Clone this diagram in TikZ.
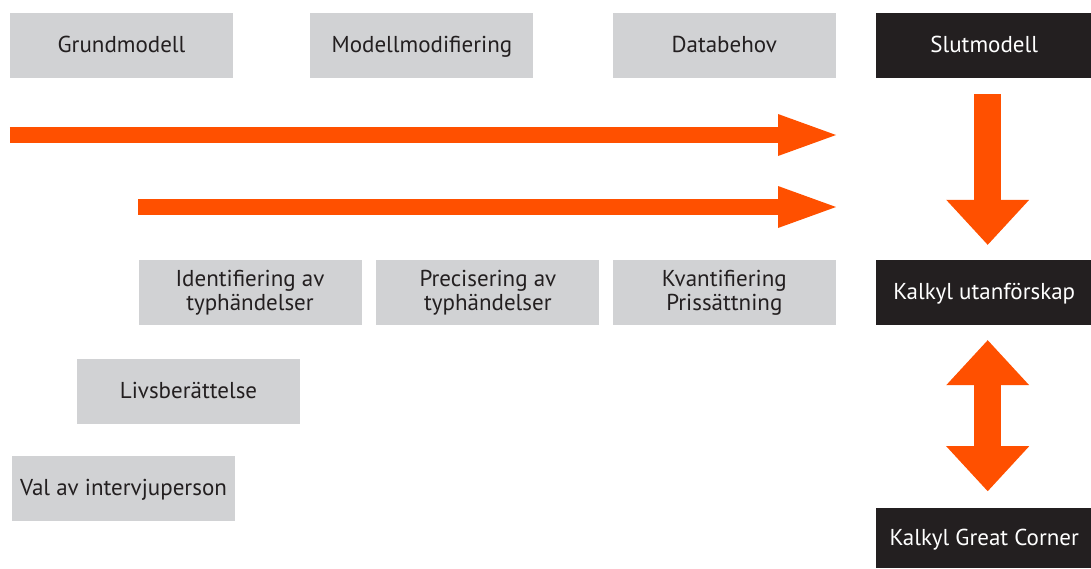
\documentclass[tikz,border=0pt]{standalone}
\usepackage{fontspec}
\setmainfont{PT Sans}
\usetikzlibrary{arrows.meta,positioning}
\definecolor{boxgray}{HTML}{D1D2D4}
\definecolor{boxblack}{HTML}{231F20}
\definecolor{arroworange}{HTML}{FF5000}
\newcommand\boxstrut{\rule[-5pt]{0pt}{24pt}}
\tikzset{
  basic/.style   = {rectangle, inner sep=0pt, align=center,
                    minimum height=65pt, font=\fontsize{23}{24}\selectfont,
                    execute at begin node=\boxstrut, execute at end node=\boxstrut},
  grey/.style    = {basic, fill=boxgray, text=boxblack, minimum width=223pt},
  dark/.style    = {basic, fill=boxblack, text=white, minimum width=216pt},
  fat/.style     = {draw=arroworange, line width=16pt,
                    >={Triangle[length=58pt,width=42pt,line width=0pt]}, ->},
  tallarrow/.style = {draw=arroworange, line width=27pt,
                    >={Triangle[length=45pt,width=83pt,line width=0pt]}, ->}
}

\begin{document}
\begin{tikzpicture}[x=1pt,y=1pt]
\useasboundingbox (0,0) rectangle (1091,-568);

% the top row
\node[grey] (t1) at (121.5,-45.5) {Grundmodell};
\node[grey, right=77pt of t1] (t2) {Modellmodifiering};
\node[grey, right=79pt of t2] (t3) {Databehov};
\node[dark, right=40pt of t3] (t4) {Slutmodell};

% the middle row
\node[grey] (p1) at (250,-292.5) {Identifiering av\\typhändelser};
\node[grey, right=14.5pt of p1] (p2) {Precisering av\\typhändelser};
\node[grey, right=13pt of p2] (p3) {Kvantifiering\\Prissättning};
\node[dark, right=40pt of p3] (k1) {Kalkyl utanförskap};

% the steps below, to the left
\node[grey] (l1) at (188.5,-391.5) {Livsberättelse};
\node[grey] (l2) at (123.5,-488) {Val av intervjuperson};

% last box, cut at the bottom edge
\node[dark, minimum height=60pt, below=183pt of k1] (k2) {Kalkyl Great Corner};

% long arrows to the right
\coordinate (a1) at (t1.west |- 0,-135);
\coordinate (a1e) at (t3.east |- 0,-135);
\coordinate (a2) at (p1.west |- 0,-207);
\coordinate (a2e) at (t3.east |- 0,-207);
\draw[fat] (a1) -- (a1e);
\draw[fat] (a2) -- (a2e);

% arrows between the dark boxes
\draw[tallarrow] ([xshift=3.5pt,yshift=-16pt]t4.south) -- ([xshift=3.5pt,yshift=15pt]k1.north);
\draw[tallarrow,<->] ([xshift=3.5pt,yshift=-15pt]k1.south) -- ([xshift=3.5pt,yshift=17pt]k2.north);
\end{tikzpicture}
\end{document}
